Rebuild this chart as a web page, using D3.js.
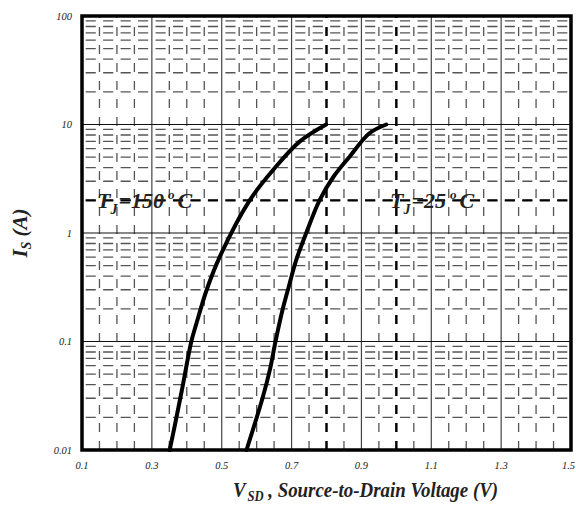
<!DOCTYPE html>
<html>
<head>
<meta charset="utf-8">
<script src="https://cdn.jsdelivr.net/npm/d3@7"></script>
<style>
  body { margin: 0; background: #fff; }
  svg { display: block; }
  text { font-family: "Liberation Serif", "Times New Roman", serif; font-style: italic; }
</style>
</head>
<body>
<div id="chart"></div>
<script>
// Is vs Vsd curves
const curve150V = [0.351, 0.366, 0.389, 0.413, 0.428, 0.457, 0.494, 0.58, 0.647, 0.723, 0.799];
const curve150I = [0.01, 0.017, 0.04, 0.1, 0.148, 0.3, 0.6, 2.0, 3.8, 6.95, 10];
const curve25V = [0.571, 0.618, 0.638, 0.654, 0.674, 0.692, 0.713, 0.742, 0.78, 0.82, 0.866, 0.923, 0.971];
const curve25I = [0.01, 0.031, 0.055, 0.1, 0.195, 0.32, 0.56, 1.0, 2.0, 3.3, 5.05, 8.3, 10];

const xTicks = [0.1, 0.3, 0.5, 0.7, 0.9, 1.1, 1.3, 1.5];
const yTicks = [0.01, 0.1, 1, 10, 100];
const yTickLabels = ["0.01", "0.1", "1", "10", "100"];
const markV = [0.8, 1.0];
const markI = [2];

const W = 576, H = 507;
const margin = { top: 16, right: 5, bottom: 57, left: 82 };

const svg = d3.select("#chart").append("svg").attr("width", W).attr("height", H);

const x = d3.scaleLinear().domain([0.1, 1.5]).range([margin.left, W - margin.right]);
const y = d3.scaleLog().domain([0.01, 100]).range([H - margin.bottom, margin.top]);

const x0 = x.range()[0], x1 = x.range()[1];
const y0 = y.range()[0], y1 = y.range()[1];

const grid = svg.append("g");

// minor vertical positions every 0.05 (not on 0.2 steps)
const minorV = d3.range(0.15, 1.5, 0.05).map((v) => +v.toFixed(2))
  .filter((v) => Math.abs(((v - 0.1) / 0.2) - Math.round((v - 0.1) / 0.2)) > 0.01);
const majorV = xTicks.slice(1, -1);

// minor horizontal: 2..9 of each decade
const minorH = [];
[0.01, 0.1, 1, 10].forEach((d) => {
  for (let k = 2; k <= 9; k++) minorH.push(+(d * k).toPrecision(3));
});
const majorH = yTicks.slice(1, -1);

const step = x(0.15) - x(0.1);
const hDash = step * 0.58;

grid.selectAll(".hmin").data(minorH).enter().append("line")
  .attr("x1", x0).attr("x2", x1)
  .attr("y1", (d) => y(d)).attr("y2", (d) => y(d))
  .attr("stroke", "#555").attr("stroke-width", 1.3)
  .attr("stroke-dasharray", `${hDash},${step - hDash}`)
  .attr("stroke-dashoffset", hDash / 2 - step / 2 + step);

grid.selectAll(".vmin").data(minorV).enter().append("line")
  .attr("x1", (d) => x(d)).attr("x2", (d) => x(d))
  .attr("y1", y0).attr("y2", y1)
  .attr("stroke", "#555").attr("stroke-width", 1.3)
  .attr("stroke-dasharray", "9,9");

grid.selectAll(".vmaj").data(majorV).enter().append("line")
  .attr("x1", (d) => x(d)).attr("x2", (d) => x(d))
  .attr("y1", y0).attr("y2", y1)
  .attr("stroke", "#444").attr("stroke-width", 1.2);

grid.selectAll(".hmaj").data(majorH).enter().append("line")
  .attr("x1", x0).attr("x2", x1)
  .attr("y1", (d) => y(d)).attr("y2", (d) => y(d))
  .attr("stroke", "#111").attr("stroke-width", 1.2);

// bold dashed marker lines
grid.selectAll(".vmark").data(markV).enter().append("line")
  .attr("x1", (d) => x(d)).attr("x2", (d) => x(d))
  .attr("y1", y0).attr("y2", y1)
  .attr("stroke", "#000").attr("stroke-width", 2.4)
  .attr("stroke-dasharray", "9,9");

grid.selectAll(".hmark").data(markI).enter().append("line")
  .attr("x1", x0).attr("x2", x1)
  .attr("y1", (d) => y(d)).attr("y2", (d) => y(d))
  .attr("stroke", "#000").attr("stroke-width", 2.4)
  .attr("stroke-dasharray", `${hDash},${step - hDash}`)
  .attr("stroke-dashoffset", hDash / 2 - step / 2 + step);

// curves
const line = d3.line().x((d) => x(d[0])).y((d) => y(d[1])).curve(d3.curveCatmullRom.alpha(0.5));
[[curve150V, curve150I], [curve25V, curve25I]].forEach(([vs, is]) => {
  svg.append("path")
    .datum(vs.map((v, i) => [v, is[i]]))
    .attr("d", line)
    .attr("fill", "none")
    .attr("stroke", "#000")
    .attr("stroke-width", 4)
    .attr("stroke-linecap", "round");
});

// frame
svg.append("rect")
  .attr("x", x0).attr("y", y1)
  .attr("width", x1 - x0).attr("height", y0 - y1)
  .attr("fill", "none").attr("stroke", "#000").attr("stroke-width", 3.5);

// tick labels
svg.selectAll(".xt").data(xTicks).enter().append("text")
  .attr("x", (d, i) => (i === xTicks.length - 1 ? W - 1 : x(d)))
  .attr("y", y0 + 19)
  .attr("text-anchor", (d, i) => (i === xTicks.length - 1 ? "end" : "middle"))
  .attr("font-size", 10.5)
  .attr("fill", "#222")
  .text((d) => d);

svg.selectAll(".yt").data(yTicks).enter().append("text")
  .attr("x", x0 - 10).attr("y", (d) => y(d) + 3.5)
  .attr("text-anchor", "end").attr("font-size", 10.5)
  .attr("fill", "#222")
  .text((d, i) => yTickLabels[i]);

// curve labels
function tjLabel(xp, yp, temp) {
  const t = svg.append("text").attr("x", xp).attr("y", yp)
    .attr("font-size", 22).attr("font-weight", "bold").attr("fill", "#222");
  t.append("tspan").text("T");
  t.append("tspan").attr("font-size", 14).attr("dy", 6).text("J");
  t.append("tspan").attr("dy", -6).attr("dx", 1).text("=" + temp);
  t.append("tspan").attr("font-size", 13).attr("dy", -9).attr("dx", 4).text("o");
  t.append("tspan").attr("dy", 9).attr("dx", 3).text("C");
}
tjLabel(97, 208, "150");
tjLabel(390, 208, "25");

// axis titles
const xt = svg.append("text")
  .attr("transform", "translate(233,497) scale(0.9,1)")
  .attr("font-size", 21).attr("font-weight", "bold").attr("fill", "#222");
xt.append("tspan").text("V");
xt.append("tspan").attr("font-size", 14).attr("dy", 4).attr("dx", 2).text("SD");
xt.append("tspan").attr("dy", -4).text(" , Source-to-Drain Voltage (V)");

const yt = svg.append("text")
  .attr("transform", `translate(27,${(y0 + y1) / 2}) rotate(-90)`)
  .attr("text-anchor", "middle")
  .attr("font-size", 21).attr("font-weight", "bold").attr("fill", "#222");
yt.append("tspan").text("I");
yt.append("tspan").attr("font-size", 14).attr("dy", 4).text("S");
yt.append("tspan").attr("dy", -4).text(" (A)");
</script>
</body>
</html>
